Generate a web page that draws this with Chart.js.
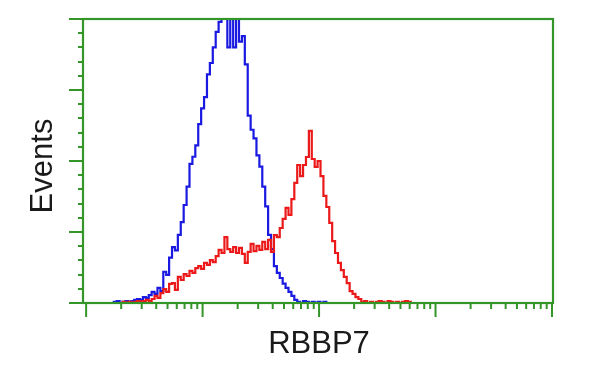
<!DOCTYPE html>
<html><head><meta charset="utf-8">
<script src="https://cdn.jsdelivr.net/npm/chart.js@4/dist/chart.umd.min.js"></script>
<style>html,body{margin:0;padding:0;background:#fff}#wrap{width:600px;height:375px}</style>
</head><body><div id="wrap"><canvas id="c" width="600" height="375"></canvas></div>
<script>
// log10 of fluorescence intensity for each histogram bin
const logIntensity = [
0.200,0.225,0.250,0.275,0.300,0.325,0.350,0.375,0.400,0.425,0.450,0.475,0.500,0.525,0.550,0.575,0.600,0.625,0.650,0.675,
0.700,0.725,0.750,0.775,0.800,0.825,0.850,0.875,0.900,0.925,0.950,0.975,1.000,1.025,1.050,1.075,1.100,1.125,1.150,1.175,
1.200,1.225,1.250,1.275,1.300,1.325,1.350,1.375,1.400,1.425,1.450,1.475,1.500,1.525,1.550,1.575,1.600,1.625,1.650,1.675,
1.700,1.725,1.750,1.775,1.800,1.825,1.850,1.875,1.900,1.925,1.950,1.975,2.000,2.025,2.050,2.075,2.100,2.125,2.150,2.175,
2.200,2.225,2.250,2.275,2.300,2.325,2.350,2.375,2.400,2.425,2.450,2.475,2.500,2.525,2.550,2.575,2.600,2.625,2.650,2.675,
2.700,2.725,2.750,2.775,2.800];
// control (blue) events, % of max
const controlEvents = [
0,0,0.4,0.7,0,0.4,0.7,0.4,0.7,1.1,1.4,1.1,2.1,1.8,2.8,3.9,3.2,5.3,4.2,11.0,
9.9,16.0,19.7,18.5,24.0,28.5,34.5,41.0,49.0,51.5,55.5,63.0,68.5,72.5,80.5,84.5,90.0,95.5,99.0,104,
101,90,104,90,103,92,94,84,66,61,58,52,48,41,34,24,19,13,10.6,8.8,
6.8,5.3,3.9,2.5,1.1,0.4,0,0.7,0.4,0,0.4,0,0.4,0,0.4,0,null,null,null,null,
null,null,null,null,null,null,null,null,null,null,null,null,null,null,null,null,null,null,null,null,
null,null,null,null,null];
// RBBP7 (red) events, % of max
const rbbp7Events = [
null,null,null,null,0,0.4,0,0.4,0,0.4,0.7,0.4,0.7,1.1,0.7,1.4,2.5,1.8,3.5,4.9,
3.9,6.7,7.0,4.6,9.2,8.1,10.2,9.5,11.3,10.6,12.3,13.0,12.0,14.1,13.4,15.1,14.4,16.5,18.7,17.6,
23.2,19.0,18.0,19.7,17.6,19.4,17.3,14.1,18.0,20.8,18.3,20.1,18.7,21.5,19.0,22.2,18.0,23.9,23.2,26.4,
29.6,33.5,31.0,36.6,42.3,48.6,44.7,48.6,51.4,60.6,50.7,47.9,50.0,44.7,37.7,33.8,28.2,21.8,17.6,14.1,
11.6,9.2,7.0,4.2,3.2,2.1,1.4,0.4,0.7,0,0.4,0,0.4,0.7,0.4,0,0.7,0.4,0,0.4,
0,0.4,0.7,0.4,0];
const xMin = 0.94, xMax = 10200;
const yMax = 100, yMajor = 25, yMinor = 5;
const decades = [1, 10, 100, 1000];

const GREEN = 'rgb(52,150,40)';
const toPts = arr => logIntensity.map((e, i) => ({x: Math.pow(10, e), y: arr[i]}));

const frame = {
  id: 'frame',
  afterDatasetsDraw(chart) {
    const {ctx, chartArea: a, scales: {x, y}} = chart;
    ctx.save();
    ctx.strokeStyle = GREEN;
    ctx.lineWidth = 2.2;
    ctx.strokeRect(a.left, a.top, a.right - a.left, a.bottom - a.top);
    ctx.lineWidth = 2;
    ctx.beginPath();
    for (let v = 0; v <= yMax; v += yMinor) {
      const py = Math.round(y.getPixelForValue(v));
      const len = (v % yMajor === 0) ? 14 : 5;
      ctx.moveTo(a.left, py); ctx.lineTo(a.left - len, py);
    }
    const xt = [];
    decades.forEach(d => { for (let m = 1; m <= 9; m++) xt.push([d * m, m === 1]); });
    xt.push([10000, true]);
    xt.forEach(([v, major]) => {
      const px = x.getPixelForValue(v);
      ctx.moveTo(px, a.bottom); ctx.lineTo(px, a.bottom + (major ? 14 : 6));
    });
    ctx.stroke();
    ctx.fillStyle = '#1a1a1a';
    ctx.font = '31px "Liberation Sans", Arial, sans-serif';
    ctx.textAlign = 'center';
    ctx.textBaseline = 'middle';
    ctx.fillText('RBBP7', (a.left + a.right) / 2 + 1, 344);
    ctx.translate(43, 166);
    ctx.rotate(-Math.PI / 2);
    ctx.fillText('Events', 0, 0);
    ctx.restore();
  }
};

new Chart(document.getElementById('c'), {
  type: 'line',
  data: {
    datasets: [
      {label: 'RBBP7', data: toPts(rbbp7Events), borderColor: 'rgb(235,25,25)', borderWidth: 2.2, stepped: 'middle', pointRadius: 0, fill: false, spanGaps: false, clip: 0},
      {label: 'Control', data: toPts(controlEvents), borderColor: 'rgb(25,25,225)', borderWidth: 2.2, stepped: 'middle', pointRadius: 0, fill: false, spanGaps: false, clip: 0}
    ]
  },
  options: {
    responsive: false,
    animation: false,
    layout: {padding: {left: 83, right: 47, top: 19, bottom: 72}},
    plugins: {legend: {display: false}, tooltip: {enabled: false}, title: {display: false}},
    scales: {
      x: {type: 'logarithmic', min: xMin, max: xMax, display: false},
      y: {type: 'linear', min: 0, max: yMax, display: false}
    }
  },
  plugins: [frame]
});
</script></body></html>
